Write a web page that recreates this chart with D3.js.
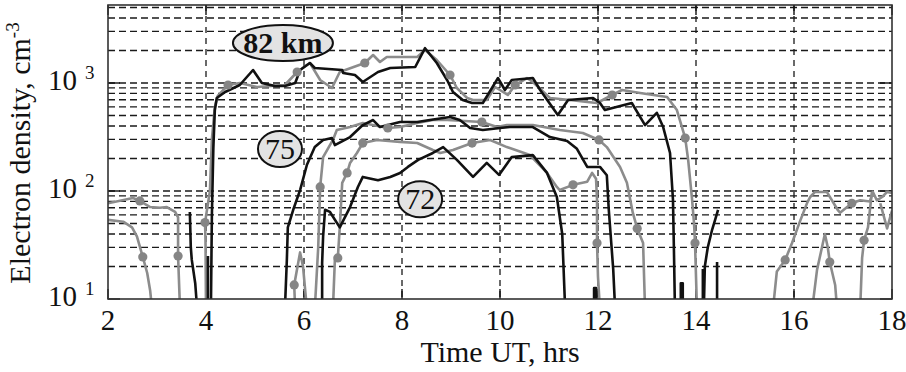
<!DOCTYPE html>
<html>
<head>
<meta charset="utf-8">
<script src="https://cdn.jsdelivr.net/npm/d3@7"></script>
<style>
  body { margin: 0; background: #fff; }
  svg { display: block; }
</style>
</head>
<body>
<div id="chart"></div>
<script>
// hour ticks and decade ticks
const hourTicks = [2, 4, 6, 8, 10, 12, 14, 16, 18];
const decadeTicks = [10, 100, 1000];
const decadeExps = ['1', '2', '3'];

// [hour UT, electron density cm^-3]; null = gap, values < 10 fall below the axis
const black82 = [
  [3.67, 64], [3.69, 30], [3.71, 23], [3.78, 14], [3.82, 8], null,
  [4.10, 8], [4.12, 60], [4.15, 250], [4.18, 560], [4.22, 726], [4.39, 826], [4.69, 958],
  [4.96, 1319], [5.14, 1000], [5.41, 938], [5.61, 938], [5.82, 1000], [5.92, 1319],
  [6.12, 1531], [6.22, 1377], [6.78, 1319], [6.80, 1238], [7.04, 1186], [7.20, 1021],
  [7.51, 1264], [7.76, 1377], [8.27, 1406], [8.47, 2100], [8.71, 1531], [8.92, 1066],
  [9.04, 826], [9.24, 696], [9.43, 653], [9.65, 653], [9.96, 1112], [10.10, 861],
  [10.24, 1066], [10.67, 1112], [10.82, 861], [11.18, 505], [11.39, 696], [11.90, 726],
  [12.04, 653], [12.14, 562], [12.69, 653], [12.96, 408], [13.20, 530], [13.33, 391],
  [13.47, 225], [13.53, 83], [13.55, 28], [13.57, 8], null,
  [13.69, 8], [13.69, 14], [13.73, 14], [13.73, 8], null,
  [14.14, 8], [14.14, 19], null,
  [14.16, 8], [14.18, 20], [14.24, 30], [14.33, 44], [14.39, 54], [14.45, 67], null,
  [14.43, 22], [14.43, 8]
];

const gray82 = [
  [2.00, 77], [2.51, 86], [2.65, 81], [2.86, 71], [3.06, 70], [3.20, 71], [3.37, 64],
  [3.43, 57], [3.43, 25], [3.47, 8], null,
  [4.00, 8], [3.99, 35], [3.98, 51], [4.08, 100], [4.12, 300], [4.18, 600], [4.24, 760],
  [4.45, 958], [4.69, 1000], [5.04, 918], [5.61, 958], [5.86, 1264], [6.06, 1468],
  [6.12, 1531], [6.33, 1066], [6.57, 899], [6.73, 1264], [7.24, 1531], [7.41, 1816],
  [7.55, 1565], [7.69, 1740], [8.31, 1740], [8.47, 2021], [8.71, 1633], [8.98, 1186],
  [9.12, 899], [9.33, 726], [9.45, 696], [9.73, 696], [9.90, 918], [10.16, 774],
  [10.31, 958], [10.55, 1112], [10.67, 1021], [11.02, 726], [11.43, 696], [11.78, 667],
  [11.98, 653], [12.29, 774], [12.49, 861], [12.86, 808], [13.41, 742], [13.61, 562],
  [13.78, 309], [13.84, 194], [13.92, 83], [13.96, 50], [13.98, 33], [14.02, 8], null,
  [15.57, 8], [15.65, 18], [15.82, 23], [15.96, 33], [16.12, 52], [16.27, 78], [16.33, 88],
  [16.43, 98], [16.67, 98], [16.90, 66], [16.94, 63], [17.18, 77], [17.35, 82],
  [17.55, 80], [17.61, 98], [17.69, 82], [17.80, 88], [17.90, 98], [18.00, 96], null,
  [17.76, 77], [17.90, 45], [18.00, 66]
];

const black75 = [
  [4.04, 8], [4.04, 25], null,
  [5.61, 8], [5.65, 23], [5.67, 46], [5.78, 67], [5.92, 102], [6.06, 175], [6.22, 255],
  [6.39, 297], [6.57, 309], [6.63, 266], [6.94, 316], [7.20, 408], [7.41, 454],
  [7.55, 391], [7.96, 435], [8.31, 435], [8.57, 454], [8.98, 484], [9.18, 454],
  [9.39, 383], [9.65, 367], [10.00, 383], [10.20, 391], [10.67, 391], [11.02, 316],
  [11.37, 290], [11.57, 246], [11.78, 167], [12.04, 167], [12.18, 140], [12.22, 67],
  [12.31, 19], [12.35, 8]
];

const gray75 = [
  [2.00, 54], [2.31, 52], [2.49, 46], [2.59, 38], [2.71, 24.5], [2.80, 17.4], [2.86, 12],
  [2.90, 8], null,
  [5.82, 8], [5.80, 13.5], [5.92, 27], [5.98, 20], [6.06, 8], null,
  [6.22, 8], [6.29, 30], [6.33, 109], [6.39, 206], [6.59, 297], [6.67, 367], [6.94, 391],
  [7.20, 426], [7.71, 383], [7.96, 391], [8.31, 426], [8.63, 454], [8.92, 454],
  [9.63, 435], [9.94, 391], [10.14, 408], [10.67, 408], [11.22, 367], [11.69, 344],
  [12.02, 297], [12.18, 255], [12.45, 167], [12.59, 119], [12.71, 63], [12.80, 45],
  [12.92, 33], [12.96, 8], null,
  [17.35, 8], [17.39, 24], [17.43, 35], [17.51, 46], [17.59, 98]
];

const black72 = [
  [6.37, 8], [6.37, 21.5], [6.39, 38], [6.43, 67], [6.53, 64], [6.73, 46], [6.94, 71],
  [7.10, 109], [7.20, 135], [7.51, 126], [7.76, 135], [7.96, 147], [8.12, 167],
  [8.33, 194], [8.63, 225], [8.84, 255], [9.12, 194], [9.45, 135], [9.73, 182],
  [9.98, 141], [10.24, 206], [10.67, 215], [10.96, 147], [11.16, 88], [11.27, 40],
  [11.33, 8], null,
  [11.92, 8], [11.92, 12.6], [11.96, 12.6], [11.96, 8]
];

const gray72 = [
  [6.59, 8], [6.63, 23], [6.69, 24], [6.73, 46], [6.78, 119], [6.88, 147], [6.94, 182],
  [7.08, 225], [7.20, 278], [7.49, 297], [7.96, 285], [8.31, 278], [8.63, 240],
  [8.78, 225], [9.04, 240], [9.43, 278], [9.80, 297], [10.14, 255], [10.61, 215],
  [10.96, 147], [11.16, 109], [11.22, 102], [11.49, 114], [11.78, 122], [11.88, 147],
  [11.96, 130], [11.98, 83], [11.98, 33], [12.00, 16], [12.04, 8], null,
  [16.37, 8], [16.47, 18.6], [16.57, 30], [16.63, 40], [16.69, 30], [16.73, 22],
  [16.84, 13.5], [16.88, 8]
];

// dot markers on the gray curves
const dots82 = [[2.65, 81], [3.43, 25], [3.98, 51], [4.45, 958], [5.86, 1264], [7.24, 1531],
  [8.98, 1186], [10.31, 958], [12.29, 774], [13.78, 309], [13.98, 33], [15.82, 23], [17.18, 77]];
const dots75 = [[2.71, 24.5], [5.80, 13.5], [6.33, 109], [7.71, 383], [9.63, 435],
  [12.02, 297], [12.80, 45], [17.43, 35]];
const dots72 = [[6.69, 24], [6.88, 147], [7.20, 278], [9.43, 278], [11.49, 114],
  [11.98, 33], [16.73, 22]];

const width = 906, height = 372;
const plotLeft = 108, plotRight = 892, plotTop = 5, plotBottom = 299;
const font = '"Liberation Serif", "DejaVu Serif", serif';

const x = d3.scaleLinear().domain([2, 18]).range([plotLeft, plotRight]);
const y = d3.scaleLog().domain([10, 5275]).range([plotBottom, plotTop]);

const svg = d3.select('#chart').append('svg')
  .attr('width', width)
  .attr('height', height);

svg.append('clipPath').attr('id', 'plot-clip')
  .append('rect')
  .attr('x', plotLeft).attr('y', plotTop)
  .attr('width', plotRight - plotLeft).attr('height', plotBottom - plotTop);

// grid
const gridValues = [];
decadeTicks.forEach(d => {
  for (let k = 1; k < 10; k++) {
    const v = d * k;
    if (v > 10 && v < y.domain()[1]) gridValues.push(v);
  }
});

const grid = svg.append('g');
grid.selectAll('.hgrid')
  .data(gridValues)
  .enter()
  .append('line')
  .attr('x1', plotLeft).attr('x2', plotRight)
  .attr('y1', d => y(d)).attr('y2', d => y(d))
  .attr('stroke', '#1a1a1a')
  .attr('stroke-width', 1.3)
  .attr('stroke-dasharray', '7,4');

grid.selectAll('.vgrid')
  .data(hourTicks.slice(1, -1))
  .enter()
  .append('line')
  .attr('x1', d => x(d)).attr('x2', d => x(d))
  .attr('y1', plotTop).attr('y2', plotBottom)
  .attr('stroke', '#1a1a1a')
  .attr('stroke-width', 1.3)
  .attr('stroke-dasharray', '6,5');

// inner ticks
const ticks = svg.append('g').attr('stroke', '#111').attr('stroke-width', 1.4);
hourTicks.forEach(h => {
  ticks.append('line').attr('x1', x(h)).attr('x2', x(h)).attr('y1', plotBottom).attr('y2', plotBottom - 10);
  ticks.append('line').attr('x1', x(h)).attr('x2', x(h)).attr('y1', plotTop).attr('y2', plotTop + 10);
});
decadeTicks.forEach(v => {
  ticks.append('line').attr('x1', plotLeft).attr('x2', plotLeft + 12).attr('y1', y(v)).attr('y2', y(v));
  ticks.append('line').attr('x1', plotRight).attr('x2', plotRight - 12).attr('y1', y(v)).attr('y2', y(v));
});

// curves
const plot = svg.append('g').attr('clip-path', 'url(#plot-clip)');
const line = d3.line()
  .defined(d => d !== null)
  .x(d => x(d[0]))
  .y(d => y(d[1]));

const grayColor = '#8c8c8c';
const blackColor = '#111111';

[gray82, gray75, gray72].forEach(s => {
  plot.append('path')
    .attr('d', line(s))
    .attr('fill', 'none')
    .attr('stroke', grayColor)
    .attr('stroke-width', 2.6)
    .attr('stroke-linejoin', 'round');
});

[black82, black75, black72].forEach(s => {
  plot.append('path')
    .attr('d', line(s))
    .attr('fill', 'none')
    .attr('stroke', blackColor)
    .attr('stroke-width', 2.6)
    .attr('stroke-linejoin', 'round');
});

plot.selectAll('.dot')
  .data([...dots82, ...dots75, ...dots72])
  .enter()
  .append('circle')
  .attr('cx', d => x(d[0]))
  .attr('cy', d => y(d[1]))
  .attr('r', 4.6)
  .attr('fill', '#858585');

// frame
svg.append('rect')
  .attr('x', plotLeft).attr('y', plotTop)
  .attr('width', plotRight - plotLeft).attr('height', plotBottom - plotTop)
  .attr('fill', 'none')
  .attr('stroke', '#333')
  .attr('stroke-width', 1.6);

// x tick labels
svg.selectAll('.xlab')
  .data(hourTicks)
  .enter()
  .append('text')
  .attr('x', d => x(d))
  .attr('y', 330)
  .attr('text-anchor', 'middle')
  .style('font-family', font)
  .style('font-size', '29px')
  .style('fill', '#111')
  .text(d => d);

// y tick labels 10^n
decadeTicks.forEach((v, i) => {
  const t = svg.append('text')
    .attr('x', 48)
    .attr('y', y(v) + 7)
    .style('font-family', font)
    .style('fill', '#111');
  t.append('tspan').style('font-size', '29px').text('10');
  t.append('tspan').attr('dx', 8).attr('dy', -11).style('font-size', '19px').text(decadeExps[i]);
});

// axis titles
svg.append('text')
  .attr('x', 500)
  .attr('y', 362)
  .attr('text-anchor', 'middle')
  .style('font-family', font)
  .style('font-size', '30px')
  .style('fill', '#111')
  .text('Time UT, hrs');

const yTitle = svg.append('text')
  .attr('transform', 'translate(30,153) rotate(-90)')
  .attr('text-anchor', 'middle')
  .style('font-family', font)
  .style('font-size', '30px')
  .style('fill', '#111');
yTitle.append('tspan').text('Electron density, cm');
yTitle.append('tspan').attr('dy', -11).style('font-size', '19px').text('-3');

// altitude labels
const altLabels = [
  { text: '82 km', t: 5.57, v: 2345, rx: 50, bold: true },
  { text: '75', t: 5.51, v: 245, rx: 22, bold: false },
  { text: '72', t: 8.37, v: 84, rx: 22, bold: false }
];

const labelG = svg.selectAll('.alt')
  .data(altLabels)
  .enter()
  .append('g')
  .attr('transform', d => `translate(${x(d.t)},${y(d.v)})`);

labelG.append('ellipse')
  .attr('rx', d => d.rx)
  .attr('ry', 18)
  .attr('fill', '#e3e3e3')
  .attr('stroke', '#111')
  .attr('stroke-width', 2);

labelG.append('text')
  .attr('text-anchor', 'middle')
  .attr('y', 10)
  .style('font-family', font)
  .style('font-size', '30px')
  .style('font-weight', d => d.bold ? 'bold' : 'normal')
  .style('fill', '#111')
  .text(d => d.text);
</script>
</body>
</html>
